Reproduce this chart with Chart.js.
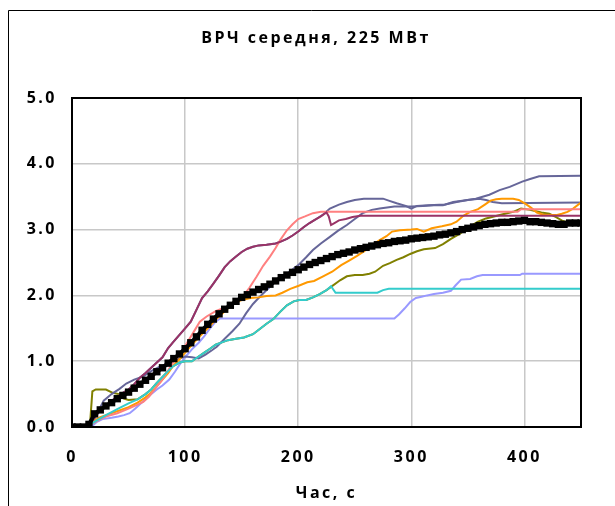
<!DOCTYPE html>
<html>
<head>
<meta charset="utf-8">
<script src="https://cdn.jsdelivr.net/npm/chart.js@4/dist/chart.umd.min.js"></script>
<style>
  html, body { margin: 0; padding: 0; background: #fff; }
  #wrap { width: 615px; height: 506px; }
</style>
</head>
<body>
<div id="wrap"><canvas id="chart" width="615" height="506"></canvas></div>
<script>
"use strict";

// 1: data (time in s, value)
const chartTitle = "ВРЧ середня, 225 МВт";
const xTitle = "Час, с";

// black line with square markers (average)
const avgTime = [0, 5, 10, 15, 20, 25, 30, 35, 40, 45, 50, 55, 60, 65, 70, 75, 80, 85, 90, 95,
  100, 105, 110, 115, 120, 125, 130, 135, 140, 145, 150, 155, 160, 165, 170, 175, 180, 185, 190, 195,
  200, 205, 210, 215, 220, 225, 230, 235, 240, 245, 250, 255, 260, 265, 270, 275, 280, 285, 290, 295,
  300, 305, 310, 315, 320, 325, 330, 335, 340, 345, 350, 355, 360, 365, 370, 375, 380, 385, 390, 395,
  400, 405, 410, 415, 420, 425, 430, 435, 440, 445, 450];
const avgValue = [0, 0, 0, 0.04, 0.2, 0.26, 0.32, 0.37, 0.43, 0.48, 0.53, 0.59, 0.65, 0.71, 0.77, 0.84, 0.9, 0.97, 1.04, 1.11,
  1.19, 1.28, 1.37, 1.47, 1.56, 1.64, 1.72, 1.79, 1.85, 1.91, 1.97, 2.01, 2.05, 2.09, 2.13, 2.17, 2.22, 2.27, 2.31, 2.35,
  2.39, 2.43, 2.47, 2.5, 2.53, 2.56, 2.59, 2.62, 2.64, 2.66, 2.69, 2.71, 2.73, 2.75, 2.77, 2.79, 2.8, 2.82, 2.83, 2.84,
  2.86, 2.87, 2.88, 2.89, 2.9, 2.92, 2.93, 2.95, 2.97, 3.0, 3.02, 3.04, 3.06, 3.08, 3.09, 3.1, 3.11, 3.11, 3.12, 3.13,
  3.14, 3.12, 3.12, 3.11, 3.1, 3.09, 3.08, 3.08, 3.1, 3.1, 3.1];

const maroonTime = [0, 15, 20, 25, 30, 35, 40, 45, 50, 55, 60, 65, 70, 75, 80, 85, 90, 95, 100, 105,
  110, 115, 120, 125, 130, 135, 140, 145, 150, 155, 160, 165, 172, 180, 185, 190, 195, 200, 205, 210,
  215, 220, 225, 227, 229, 232, 236, 242, 248, 255, 450];
const maroonValue = [0, 0, 0.15, 0.25, 0.33, 0.4, 0.46, 0.52, 0.57, 0.65, 0.75, 0.82, 0.9, 0.98, 1.06, 1.2, 1.3, 1.4, 1.5, 1.6,
  1.78, 1.96, 2.06, 2.18, 2.3, 2.43, 2.52, 2.59, 2.66, 2.71, 2.74, 2.76, 2.77, 2.79, 2.82, 2.86, 2.91, 2.97, 3.04, 3.1,
  3.15, 3.2, 3.26, 3.2, 3.07, 3.1, 3.14, 3.16, 3.19, 3.21, 3.21];

const salmonTime = [0, 15, 18, 25, 30, 40, 50, 58, 63, 68, 73, 79, 84, 89, 95, 100, 106, 113, 119, 127,
  133, 140, 145, 151, 157, 163, 169, 175, 180, 184, 190, 195, 200, 206, 213, 220, 394, 397, 450];
const salmonValue = [0, 0, 0.05, 0.12, 0.16, 0.21, 0.28, 0.34, 0.38, 0.46, 0.57, 0.7, 0.83, 0.97, 1.1, 1.23, 1.4, 1.6, 1.68, 1.76,
  1.8, 1.84, 1.9, 1.98, 2.12, 2.28, 2.45, 2.59, 2.72, 2.84, 2.99, 3.08, 3.16, 3.2, 3.25, 3.27, 3.27, 3.31, 3.31];

const slateATime = [0, 15, 18, 22, 28, 35, 42, 48, 55, 63, 70, 78, 85, 92, 100, 106, 112, 118, 124, 128,
  135, 142, 148, 154, 160, 166, 175, 182, 190, 200, 207, 213, 220, 228, 235, 243, 250, 257, 265, 272,
  285, 300, 310, 320, 328, 337, 345, 357, 369, 378, 387, 398, 405, 413, 450];
const slateAValue = [0, 0, 0.05, 0.2, 0.4, 0.5, 0.58, 0.66, 0.72, 0.77, 0.85, 0.92, 0.96, 1.02, 1.07, 1.06, 1.04, 1.1, 1.17, 1.22,
  1.34, 1.46, 1.57, 1.73, 1.87, 1.98, 2.13, 2.24, 2.33, 2.46, 2.58, 2.69, 2.79, 2.89, 2.98, 3.07, 3.16, 3.25, 3.3, 3.32,
  3.35, 3.35, 3.36, 3.37, 3.37, 3.42, 3.44, 3.47, 3.53, 3.6, 3.65, 3.73, 3.77, 3.81, 3.82];

const slateBTime = [0, 15, 20, 25, 30, 35, 40, 45, 50, 55, 60, 65, 70, 75, 80, 85, 90, 95, 100, 105,
  110, 115, 120, 125, 130, 135, 140, 145, 150, 155, 160, 165, 172, 180, 185, 190, 195, 200, 205, 210,
  215, 222, 228, 236, 243, 250, 258, 275, 280, 287, 295, 300, 305, 315, 330, 340, 350, 360, 366, 372,
  380, 450];
const slateBValue = [0, 0, 0.15, 0.25, 0.33, 0.4, 0.46, 0.52, 0.57, 0.65, 0.75, 0.82, 0.9, 0.98, 1.06, 1.2, 1.3, 1.4, 1.5, 1.6,
  1.78, 1.96, 2.06, 2.18, 2.3, 2.43, 2.52, 2.59, 2.66, 2.71, 2.74, 2.76, 2.77, 2.79, 2.82, 2.86, 2.91, 2.97, 3.04, 3.1,
  3.15, 3.23, 3.32, 3.38, 3.42, 3.45, 3.47, 3.47, 3.44, 3.4, 3.36, 3.32, 3.36, 3.37, 3.38, 3.42, 3.45, 3.47, 3.45, 3.42,
  3.4, 3.41];

const orangeTime = [0, 15, 18, 25, 30, 40, 50, 58, 65, 70, 75, 80, 85, 89, 95, 100, 106, 113, 120, 127,
  135, 144, 150, 158, 165, 172, 180, 186, 193, 201, 208, 214, 222, 230, 238, 245, 252, 258, 265, 272,
  278, 283, 290, 300, 305, 311, 318, 327, 335, 340, 346, 352, 359, 365, 370, 375, 380, 390, 395, 401,
  406, 411, 416, 422, 428, 433, 438, 443, 450];
const orangeValue = [0, 0, 0.08, 0.15, 0.18, 0.24, 0.3, 0.37, 0.45, 0.52, 0.62, 0.72, 0.82, 0.92, 1.03, 1.13, 1.25, 1.38, 1.5, 1.63,
  1.76, 1.89, 1.93, 1.96, 1.97, 1.99, 2.0, 2.04, 2.1, 2.15, 2.2, 2.22, 2.29, 2.36, 2.46, 2.53, 2.6, 2.67, 2.76, 2.84,
  2.9, 2.97, 2.99, 3.0, 3.01, 2.97, 3.02, 3.05, 3.08, 3.12, 3.21, 3.27, 3.31, 3.38, 3.44, 3.46, 3.47, 3.47, 3.45, 3.39,
  3.33, 3.26, 3.23, 3.22, 3.22, 3.24, 3.27, 3.32, 3.41];

const tealTime = [0, 15, 18, 25, 30, 40, 50, 58, 65, 70, 75, 80, 85, 89, 95, 100, 106, 111, 117, 122,
  127, 133, 138, 145, 152, 160, 166, 172, 178, 184, 190, 196, 201, 207, 213, 219, 225, 229, 233, 270,
  275, 280, 450];
const tealValue = [0, 0, 0.06, 0.13, 0.18, 0.27, 0.36, 0.42, 0.5, 0.57, 0.67, 0.76, 0.85, 0.92, 0.98, 1.0, 1.0, 1.06, 1.13, 1.19,
  1.25, 1.29, 1.32, 1.34, 1.36, 1.41, 1.49, 1.57, 1.64, 1.75, 1.85, 1.91, 1.93, 1.93, 1.97, 2.02, 2.08, 2.14, 2.04, 2.04,
  2.08, 2.1, 2.1];

const oliveTime = [0, 15, 16, 18, 21, 30, 36, 44, 46, 50, 58, 65, 70, 75, 80, 85, 89, 95, 100, 106,
  111, 117, 122, 127, 133, 138, 145, 152, 160, 166, 172, 178, 184, 190, 196, 201, 207, 213, 219, 225,
  229, 237, 243, 250, 257, 263, 268, 275, 281, 287, 293, 299, 305, 311, 321, 328, 335, 343, 352, 359,
  366, 373, 380, 390, 397, 405, 415, 422, 428, 434, 440, 450];
const oliveValue = [0, 0, 0.06, 0.54, 0.57, 0.57, 0.52, 0.49, 0.43, 0.41, 0.42, 0.5, 0.57, 0.67, 0.76, 0.85, 0.92, 0.98, 1.0, 1.0,
  1.06, 1.13, 1.19, 1.25, 1.29, 1.32, 1.34, 1.36, 1.41, 1.49, 1.57, 1.64, 1.75, 1.85, 1.91, 1.93, 1.93, 1.97, 2.02, 2.08,
  2.13, 2.23, 2.29, 2.31, 2.31, 2.33, 2.36, 2.45, 2.49, 2.54, 2.58, 2.63, 2.67, 2.7, 2.72, 2.78, 2.86, 2.94, 3.05, 3.12,
  3.17, 3.2, 3.23, 3.27, 3.32, 3.3, 3.26, 3.24, 3.19, 3.13, 3.1, 3.09];

const periTime = [0, 17, 22, 27, 35, 41, 46, 51, 56, 61, 68, 75, 80, 86, 91, 96, 101, 106, 112, 117,
  122, 127, 131, 285, 289, 294, 299, 304, 309, 314, 320, 328, 335, 339, 344, 352, 358, 363, 396, 398,
  450];
const periValue = [0, 0, 0.08, 0.12, 0.14, 0.16, 0.18, 0.21, 0.28, 0.36, 0.47, 0.57, 0.63, 0.72, 0.84, 0.97, 1.08, 1.18, 1.28, 1.38,
  1.5, 1.6, 1.65, 1.65, 1.71, 1.8, 1.9, 1.96, 1.98, 2.0, 2.02, 2.04, 2.07, 2.15, 2.24, 2.25, 2.29, 2.31, 2.31, 2.33,
  2.33];

// 2: prepare data - pair times and values into {x, y} points
function toPoints(times, values) {
  let points = [];
  for (let i = 0; i < times.length; i++) {
    points.push({ x: times[i], y: values[i] });
  }
  return points;
}

// first dataset is drawn on top
function lineSet(times, values, color) {
  return {
    data: toPoints(times, values),
    borderColor: color,
    borderWidth: 2,
    pointRadius: 0,
    tension: 0
  };
}

const FONT = "'Open Sans', 'DejaVu Sans', sans-serif";

// plugin: outer frame, plot frame and the title
const framePlugin = {
  id: 'frame',
  beforeDraw(chart) {
    chart.ctx.letterSpacing = '2.5px';
  },
  afterDraw(chart) {
    const ctx = chart.ctx;
    const a = chart.chartArea;
    ctx.save();
    ctx.strokeStyle = '#000';
    ctx.lineWidth = 2;
    ctx.strokeRect(a.left, a.top, a.right - a.left, a.bottom - a.top);
    ctx.lineWidth = 1;
    ctx.beginPath();
    ctx.moveTo(8.5, 506);
    ctx.lineTo(8.5, 10.5);
    ctx.lineTo(615, 10.5);
    ctx.stroke();
    ctx.fillStyle = '#000';
    ctx.font = "bold 16px " + FONT;
    ctx.letterSpacing = '2.5px';
    ctx.textAlign = 'center';
    ctx.textBaseline = 'middle';
    ctx.fillText(chartTitle, 316, 38);
    ctx.restore();
  }
};

// 3: create the chart
let chart = new Chart(document.getElementById('chart'), {
  type: 'line',
  data: {
    datasets: [
      {
        data: toPoints(avgTime, avgValue),
        borderColor: '#000',
        backgroundColor: '#000',
        borderWidth: 4,
        pointStyle: 'rect',
        pointRadius: 5.2,
        pointBorderWidth: 0,
        pointBackgroundColor: '#000',
        tension: 0
      },
      lineSet(tealTime, tealValue, '#33CCCC'),
      lineSet(maroonTime, maroonValue, '#993366'),
      lineSet(salmonTime, salmonValue, '#FF8080'),
      lineSet(orangeTime, orangeValue, '#FF9900'),
      lineSet(slateATime, slateAValue, '#666699'),
      lineSet(slateBTime, slateBValue, '#666699'),
      lineSet(oliveTime, oliveValue, '#808000'),
      lineSet(periTime, periValue, '#9999FF')
    ]
  },
  options: {
    responsive: false,
    animation: false,
    layout: { padding: { top: 98, right: 34, left: 0, bottom: 0 } },
    plugins: {
      legend: { display: false },
      tooltip: { enabled: false },
      title: { display: false }
    },
    scales: {
      x: {
        type: 'linear',
        min: 0,
        max: 450,
        afterBuildTicks: (scale) => {
          scale.ticks = scale.ticks.filter(t => t.value % 100 === 0);
        },
        afterFit: (scale) => { scale.height = 79; },
        ticks: {
          stepSize: 100,
          padding: 21,
          color: '#000',
          font: { family: FONT, size: 16, weight: 'bold' }
        },
        grid: { color: '#c8c8c8', lineWidth: 1.5, drawTicks: false },
        border: { color: '#000', width: 2 },
        title: {
          display: true,
          text: xTitle,
          color: '#000',
          padding: { top: 0, bottom: 3 },
          font: { family: FONT, size: 16, weight: 'bold' }
        }
      },
      y: {
        min: 0,
        max: 5,
        afterFit: (scale) => { scale.width = 72; },
        ticks: {
          stepSize: 1,
          padding: 15,
          color: '#000',
          font: { family: FONT, size: 16, weight: 'bold' },
          callback: (v) => v.toFixed(1)
        },
        grid: { color: '#c8c8c8', lineWidth: 1.5, drawTicks: false },
        border: { color: '#000', width: 2 }
      }
    }
  },
  plugins: [framePlugin]
});
</script>
</body>
</html>
